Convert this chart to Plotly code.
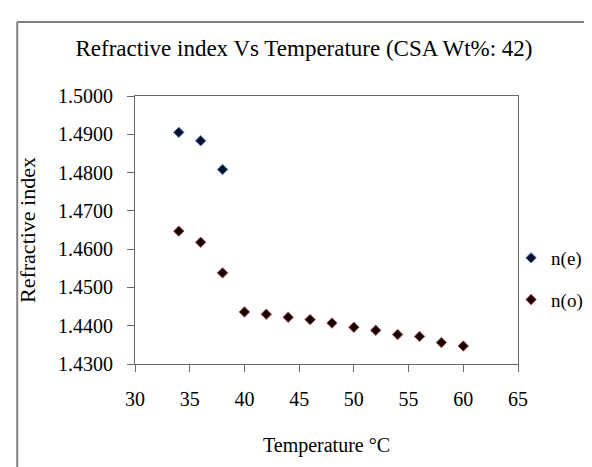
import plotly.graph_objects as go

temp_ne = [34, 36, 38]
n_e = [1.4905, 1.4883, 1.4808]

temp_no = [34, 36, 38, 40, 42, 44, 46, 48, 50, 52, 54, 56, 58, 60]
n_o = [1.4647, 1.4618, 1.4538, 1.4436, 1.4430, 1.4422, 1.4416,
       1.4407, 1.4396, 1.4388, 1.4377, 1.4372, 1.4356, 1.4347]

y_ticks = [1.43, 1.44, 1.45, 1.46, 1.47, 1.48, 1.49, 1.50]
y_tick_text = ["1.4300", "1.4400", "1.4500", "1.4600", "1.4700", "1.4800", "1.4900", "1.5000"]
x_ticks = [30, 35, 40, 45, 50, 55, 60, 65]

FONT = "Liberation Serif"
W, H = 592, 467
L, R, T, B = 127, 78, 88, 111
pw, ph = W - L - R, H - T - B

def px(x):
    return (x - L) / pw

def py(y):
    return (H - B - y) / ph

fig = go.Figure()
fig.add_trace(go.Scatter(
    x=temp_ne, y=n_e, mode="markers", name="n(e)", legendgroup="a",
    marker=dict(symbol="diamond", size=8, color="#06122e",
                line=dict(color="#4a78b8", width=1)),
))
fig.add_trace(go.Scatter(
    x=temp_no, y=n_o, mode="markers", name="n(o)", legendgroup="b",
    marker=dict(symbol="diamond", size=8, color="#140000",
                line=dict(color="#b04848", width=1)),
))

axis_common = dict(
    showgrid=False, zeroline=False, showline=True, mirror=True,
    linecolor="#6a6a6a", linewidth=1, ticks="outside", ticklen=7,
    tickcolor="#6a6a6a", automargin=False,
    tickfont=dict(family=FONT, size=20, color="black"),
)

fig.update_layout(
    width=W, height=H,
    margin=dict(l=L, r=R, t=T, b=B),
    paper_bgcolor="white", plot_bgcolor="white",
    font=dict(family=FONT, color="black"),
    title=dict(text="Refractive index Vs Temperature (CSA Wt%: 42)",
               x=0.5, xanchor="center", xref="container",
               y=1 - 40 / H, yanchor="middle",
               font=dict(family=FONT, size=23, color="black")),
    xaxis=dict(range=[30, 65], tickvals=x_ticks, ticklabelstandoff=10,
               title=dict(text="Temperature °C", standoff=28,
                          font=dict(family=FONT, size=20)),
               **axis_common),
    yaxis=dict(range=[1.43, 1.50], tickvals=y_ticks, ticktext=y_tick_text,
               ticklabelstandoff=10,
               title=dict(text="Refractive index", standoff=16,
                          font=dict(family=FONT, size=22)),
               **axis_common),
    legend=dict(x=px(507), y=py(231), xanchor="left", yanchor="top",
                font=dict(family=FONT, size=19, color="black"),
                bgcolor="rgba(0,0,0,0)", tracegroupgap=14,
                itemwidth=30),
    showlegend=True,
)

fig.add_shape(type="line", xref="paper", yref="paper",
              x0=px(8), y0=py(14), x1=px(600), y1=py(14),
              line=dict(color="#808080", width=2))
fig.add_shape(type="line", xref="paper", yref="paper",
              x0=px(8), y0=py(14), x1=px(8), y1=py(475),
              line=dict(color="#808080", width=2))

fig.write_html("out.html")
